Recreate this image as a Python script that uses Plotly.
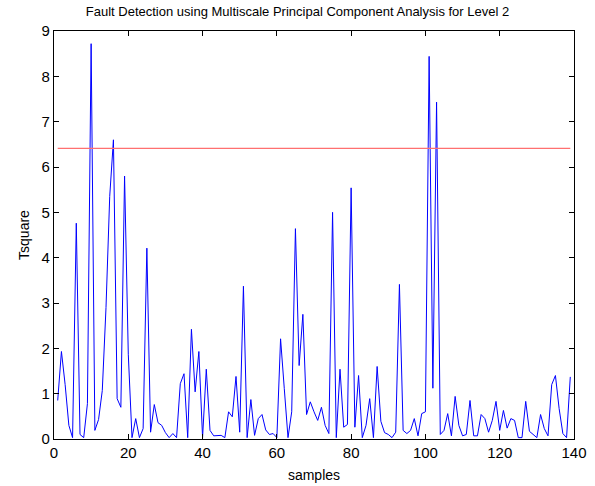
import plotly.graph_objects as go

samples = list(range(1, 140))
tsquare = [
    0.85, 1.93, 1.2, 0.3, 0.03, 4.76, 0.1, 0.03, 0.78, 8.72,
    0.19, 0.43, 1.07, 2.9, 5.35, 6.6, 0.89, 0.7, 5.8, 1.87,
    0.03, 0.45, 0.03, 0.23, 4.21, 0.15, 0.76, 0.36, 0.3, 0.14,
    0.03, 0.12, 0.03, 1.22, 1.44, 0.03, 2.42, 1.04, 1.93, 0.03,
    1.54, 0.19, 0.07, 0.07, 0.08, 0.03, 0.6, 0.49, 1.38, 0.15,
    3.37, 0.03, 0.87, 0.08, 0.45, 0.54, 0.2, 0.1, 0.12, 0.03,
    2.21, 1.11, 0.03, 0.6, 4.64, 1.62, 2.75, 0.54, 0.82, 0.6,
    0.41, 0.7, 0.3, 0.12, 5.0, 0.03, 1.54, 0.26, 0.32, 5.54,
    0.26, 1.4, 0.03, 0.3, 0.89, 0.03, 1.6, 0.39, 0.14, 0.1,
    0.03, 0.15, 3.41, 0.19, 0.12, 0.19, 0.45, 0.07, 0.56, 0.6,
    8.44, 1.12, 7.43, 0.1, 0.19, 0.56, 0.07, 0.94, 0.3, 0.07,
    0.1, 0.85, 0.07, 0.07, 0.54, 0.45, 0.15, 0.41, 0.83, 0.19,
    0.63, 0.24, 0.45, 0.41, 0.03, 0.03, 0.83, 0.17, 0.1, 0.03,
    0.54, 0.23, 0.07, 1.2, 1.4, 0.67, 0.12, 0.03, 1.37,
]
threshold = 6.41

x_ticks = [0, 20, 40, 60, 80, 100, 120, 140]
y_ticks = [0, 1, 2, 3, 4, 5, 6, 7, 8, 9]

fig = go.Figure()
fig.add_trace(go.Scatter(x=samples, y=tsquare, mode="lines",
                         line=dict(color="#0000FF", width=1)))
fig.add_trace(go.Scatter(x=[samples[0], samples[-1]], y=[threshold, threshold],
                         mode="lines", line=dict(color="#FF7070", width=1.2)))

font = "Liberation Sans, Arial, sans-serif"
fig.update_layout(
    width=595, height=486,
    margin=dict(l=54, r=21, t=31, b=47, autoexpand=False),
    paper_bgcolor="white", plot_bgcolor="white",
    showlegend=False,
    font=dict(family=font, size=14, color="black"),
    title=dict(text="Fault Detection using Multiscale Principal Component Analysis for Level 2",
               x=0.5, xanchor="center", y=0.985, yanchor="top",
               font=dict(family=font, size=13, color="black")),
    xaxis=dict(range=[0, 140], tickvals=x_ticks, ticks="inside", ticklen=5,
               tickcolor="black", tickfont=dict(size=15), automargin=False,
               showline=True, linecolor="black", linewidth=1.3, mirror="ticks",
               showgrid=False, zeroline=False,
               title=dict(text="samples", standoff=10, font=dict(size=14))),
    yaxis=dict(range=[0, 9], tickvals=y_ticks, ticks="inside", ticklen=5,
               tickcolor="black", tickfont=dict(size=15), automargin=False,
               showline=True, linecolor="black", linewidth=1.3, mirror="ticks",
               showgrid=False, zeroline=False,
               title=dict(text="Tsquare", standoff=8, font=dict(size=14))),
)
fig.write_html("out.html")
